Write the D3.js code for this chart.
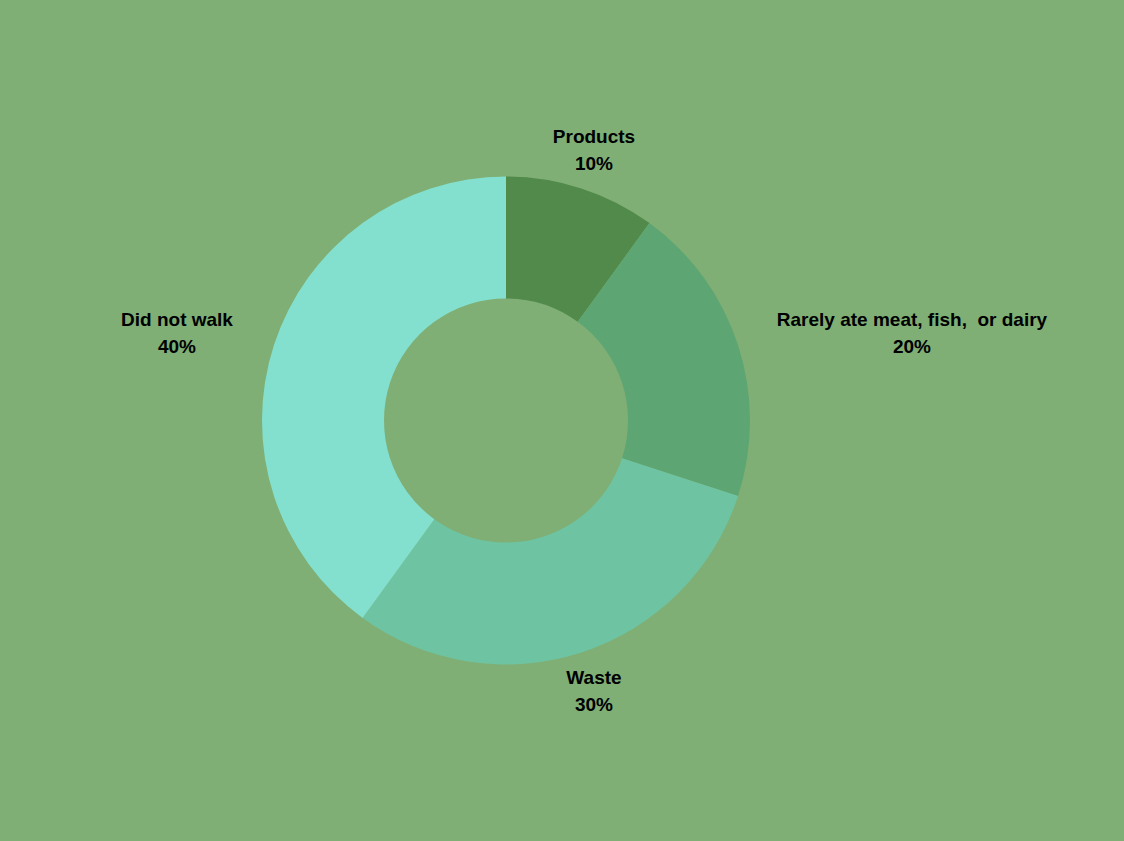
<!DOCTYPE html>
<html><head><meta charset="utf-8">
<script src="https://cdn.jsdelivr.net/npm/d3@7"></script>
<style>html,body{margin:0;padding:0;background:#7FAF74;}svg{display:block;}</style>
</head><body>
<svg id="c" width="1124" height="841"></svg>
<script>
const categories = ["Products", "Rarely ate meat, fish,  or dairy", "Waste", "Did not walk"];
const values = [10, 20, 30, 40];
const colors = ["#518A4B", "#5EA574", "#6EC4A2", "#83E0CF"];
const labelPos = [[594, 136], [912, 319], [594, 677], [177, 319]];

const svg = d3.select("#c");
svg.append("rect").attr("width", 1124).attr("height", 841).attr("fill", "#7FAF74");
const cx = 506, cy = 420.5, R = 244, r = 122;
const pie = d3.pie().sort(null).value(d => d)(values);
const arc = d3.arc().innerRadius(r).outerRadius(R);
const g = svg.append("g").attr("transform", `translate(${cx},${cy})`);
g.selectAll("path").data(pie).join("path")
  .attr("d", arc).attr("fill", (d, i) => colors[i]);

const lg = svg.append("g").attr("font-family", "'Liberation Sans', Arial, sans-serif")
  .attr("font-weight", "bold").attr("font-size", 19).attr("fill", "#000").attr("text-anchor", "middle");
categories.forEach((c, i) => {
  const t = lg.append("text").attr("x", labelPos[i][0]).attr("y", labelPos[i][1]).attr("dominant-baseline", "central");
  t.append("tspan").attr("x", labelPos[i][0]).attr("dy", 0).style("white-space", "pre").text(c);
  t.append("tspan").attr("x", labelPos[i][0]).attr("dy", 26.5).text(values[i] + "%");
});
</script>
</body></html>
